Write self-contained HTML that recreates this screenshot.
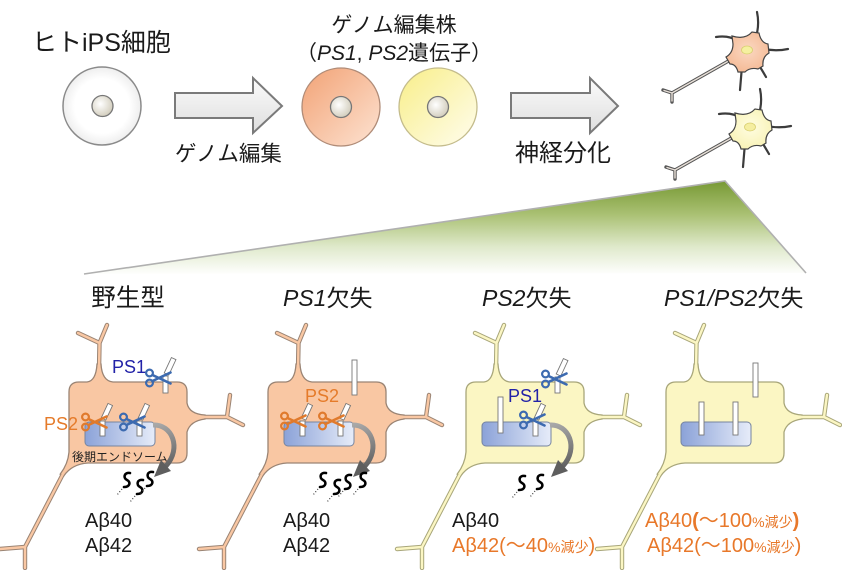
<!DOCTYPE html>
<html><head><meta charset="utf-8">
<style>
html,body{margin:0;padding:0;background:#fff;}
svg{display:block;font-family:"Liberation Sans","Noto Sans CJK JP",sans-serif;}
</style></head>
<body>
<svg width="842" height="570" viewBox="0 0 842 570" xmlns="http://www.w3.org/2000/svg">
<defs>
  <linearGradient id="gArrow" x1="0" y1="0" x2="0" y2="1">
    <stop offset="0" stop-color="#fbfbfb"/><stop offset="1" stop-color="#dedede"/>
  </linearGradient>
  <linearGradient id="gC2" x1="0" y1="0" x2="1" y2="1">
    <stop offset="0" stop-color="#f2a275"/><stop offset="1" stop-color="#fde3d2"/>
  </linearGradient>
  <linearGradient id="gC3" x1="0" y1="0" x2="1" y2="1">
    <stop offset="0" stop-color="#f8ee88"/><stop offset="1" stop-color="#fffdee"/>
  </linearGradient>
  <radialGradient id="gC1" cx="0.5" cy="0.5" r="0.5">
    <stop offset="0.7" stop-color="#ffffff"/><stop offset="1" stop-color="#eeeeee"/>
  </radialGradient>
  <radialGradient id="gNuc" cx="0.4" cy="0.4" r="0.6">
    <stop offset="0" stop-color="#ffffff"/><stop offset="1" stop-color="#d4cfbf"/>
  </radialGradient>
  <linearGradient id="gTri" x1="0" y1="181" x2="0" y2="275" gradientUnits="userSpaceOnUse">
    <stop offset="0" stop-color="#779934"/>
    <stop offset="0.35" stop-color="#a9c072"/>
    <stop offset="0.7" stop-color="#dfe9cb"/>
    <stop offset="1" stop-color="#ffffff"/>
  </linearGradient>
  <linearGradient id="gEndo" x1="0" y1="0" x2="1" y2="0">
    <stop offset="0" stop-color="#8ba2d8"/><stop offset="1" stop-color="#e6ecf9"/>
  </linearGradient>
  <linearGradient id="gArc" x1="153" y1="425" x2="166" y2="470" gradientUnits="userSpaceOnUse">
    <stop offset="0" stop-color="#a8a8a8"/><stop offset="1" stop-color="#5e5e5e"/>
  </linearGradient>
  <radialGradient id="gNO" cx="0.5" cy="0.45" r="0.6">
    <stop offset="0" stop-color="#fbd8c2"/><stop offset="1" stop-color="#f4b994"/>
  </radialGradient>
  <radialGradient id="gNY" cx="0.5" cy="0.45" r="0.6">
    <stop offset="0" stop-color="#fffde2"/><stop offset="1" stop-color="#f8f2b4"/>
  </radialGradient>

  <path id="body" d="M 79,382 L 87,382 Q 96,381 97,364 L 101,364 Q 102,381 113,382 L 177,382 Q 187,382 187,392 L 187,403 Q 189,414 205,415 L 205,419 Q 190,421 187,432 L 187,453 Q 187,463 177,463 L 88,463 Q 72,464 63.8,475.9 L 60.2,474.1 Q 68,464 69,452 L 69,392 Q 69,382 79,382 Z"/>
  <path id="dend" fill="none" stroke-linecap="round" stroke-linejoin="round"
        d="M 99,370 L 99.5,343 L 78,333 M 99.5,343 L 107,325 M 199,417 L 227,417 L 230,395 M 227,417 L 243,425 M 64,472 L 25,547 L 0,549 M 25,547 L 25,568"/>
  <g id="sc" fill="none" stroke-width="2.2" stroke-linecap="round">
    <circle cx="-8.5" cy="-5" r="3.4"/>
    <circle cx="-8.5" cy="5" r="3.4"/>
    <path d="M -5.5,-3 L 12.5,5.5 M -5.5,3 L 12.5,-5.5" stroke-width="2.6"/>
  </g>
  <g id="arr">
    <path d="M 153,425 C 172,424 182,448 166,466" fill="none" stroke="url(#gArc)" stroke-width="5"/>
    <polygon points="154,477 171,471 161,460" fill="#5e5e5e"/>
  </g>
  <g id="sq">
    <path d="M 7,0 C 1,-1 0,5 4,7 C 8,9 7,14 1,14" fill="none" stroke="#000" stroke-width="2.6" stroke-linecap="round"/>
    <path d="M -1,16 L -6,22" fill="none" stroke="#444" stroke-width="1.3" stroke-dasharray="1 2"/>
  </g>
  <g id="neuron">
    <path fill="none" stroke="#3c3c3c" stroke-width="2.2" stroke-linecap="round"
      d="M 755,40 Q 760,26 757,12 M 738,41 Q 729,35 716,37 M 760,48 Q 774,52 788,49 M 757,62 Q 762,70 766,77 M 742,66 Q 741,78 740,90"/>
    <path fill="none" stroke="#555" stroke-width="3.4" stroke-linecap="round" d="M 732,59 L 672,93 M 672,93 L 663,90 M 672,93 L 672,102"/>
    <path fill="none" stroke="#e8e0d8" stroke-width="1.4" stroke-linecap="round" d="M 732,59 L 672,93 M 672,93 L 664,90.5 M 672,93 L 672,101"/>
    <path stroke="#444" stroke-width="1.2"
      d="M 759,33 Q 761,43 768,44 L 769,53 Q 762,57 763,66 L 758,69 Q 750,67 745,72 L 738,72 Q 736,64 730,64 L 726,57 Q 733,53 733,44 L 732,36 Q 745,40 752,32 Z"/>
  </g>
</defs>

<!-- Top row -->
<text x="32" y="51" font-size="25" fill="#1a1a1a">ヒトiPS細胞</text>
<circle cx="102" cy="106" r="39" fill="url(#gC1)" stroke="#8a8a8a" stroke-width="1.5"/>
<circle cx="102.5" cy="106" r="10.5" fill="url(#gNuc)" stroke="#777" stroke-width="1.3"/>

<polygon points="175,93 253,93 253,78 282,106 253,133 253,118 175,118" fill="url(#gArrow)" stroke="#7a7a7a" stroke-width="2" stroke-linejoin="miter"/>
<text x="175" y="161" font-size="21.5" fill="#1a1a1a">ゲノム編集</text>

<text x="394" y="32" font-size="21" text-anchor="middle" fill="#1a1a1a">ゲノム編集株</text>
<text x="394" y="60" font-size="21" text-anchor="middle" fill="#1a1a1a">（<tspan font-style="italic">PS1</tspan>, <tspan font-style="italic">PS2</tspan>遺伝子）</text>

<circle cx="341" cy="107" r="39" fill="url(#gC2)" stroke="#b08c78" stroke-width="1.3"/>
<circle cx="341" cy="107" r="10.5" fill="url(#gNuc)" stroke="#777" stroke-width="1.3"/>
<circle cx="438" cy="107" r="39" fill="url(#gC3)" stroke="#c4bc8c" stroke-width="1.3"/>
<circle cx="438" cy="107" r="10.5" fill="url(#gNuc)" stroke="#777" stroke-width="1.3"/>

<polygon points="511,93 590,93 590,78 618,106 590,133 590,118 511,118" fill="url(#gArrow)" stroke="#7a7a7a" stroke-width="2"/>
<text x="515" y="161" font-size="24" fill="#1a1a1a">神経分化</text>

<!-- top neurons -->
<use href="#neuron" fill="url(#gNO)"/>
<ellipse cx="747" cy="50" rx="5.5" ry="4" fill="#f5f0a0" stroke="#d8cf70" stroke-width="0.8"/>
<g transform="translate(3,77)">
  <use href="#neuron" fill="url(#gNY)"/>
  <ellipse cx="747" cy="50" rx="5.5" ry="4" fill="#f5eea0" stroke="#d8cf70" stroke-width="0.8"/>
</g>

<!-- green triangle -->
<polygon points="84,274 725,181 806,273" fill="url(#gTri)"/>
<path d="M 84,274 L 725,181 L 806,273" fill="none" stroke="#b0b0b0" stroke-width="1.6"/>

<!-- Titles -->
<text x="128" y="306" font-size="24.5" text-anchor="middle" fill="#1a1a1a">野生型</text>
<text x="283" y="306" font-size="23" fill="#1a1a1a"><tspan font-style="italic">PS1</tspan>欠失</text>
<text x="482" y="306" font-size="23" fill="#1a1a1a"><tspan font-style="italic">PS2</tspan>欠失</text>
<text x="664" y="306" font-size="23" fill="#1a1a1a"><tspan font-style="italic">PS1/PS2</tspan>欠失</text>

<!-- Panel cells -->
<g>
  <use href="#dend" stroke="#9a8474" stroke-width="4.4"/>
  <use href="#body" fill="#f9c7a3" stroke="#9a8474" stroke-width="1.3"/>
  <use href="#dend" stroke="#f9c7a3" stroke-width="2.4"/>
</g>
<g transform="translate(199,0)">
  <use href="#dend" stroke="#9a8474" stroke-width="4.4"/>
  <use href="#body" fill="#f9c7a3" stroke="#9a8474" stroke-width="1.3"/>
  <use href="#dend" stroke="#f9c7a3" stroke-width="2.4"/>
</g>
<g transform="translate(397,0)">
  <use href="#dend" stroke="#a8a67a" stroke-width="4.4"/>
  <use href="#body" fill="#fbf6c3" stroke="#a8a67a" stroke-width="1.3"/>
  <use href="#dend" stroke="#fbf6c3" stroke-width="2.4"/>
</g>
<g transform="translate(597,0)">
  <use href="#dend" stroke="#a8a67a" stroke-width="4.4"/>
  <use href="#body" fill="#fbf6c3" stroke="#a8a67a" stroke-width="1.3"/>
  <use href="#dend" stroke="#fbf6c3" stroke-width="2.4"/>
</g>

<!-- Endosomes -->
<rect x="85" y="422" width="70" height="24" rx="4" fill="url(#gEndo)" stroke="#76849f" stroke-width="1"/>
<rect x="284" y="422" width="70" height="24" rx="4" fill="url(#gEndo)" stroke="#76849f" stroke-width="1"/>
<rect x="482" y="422" width="69" height="24" rx="4" fill="url(#gEndo)" stroke="#76849f" stroke-width="1"/>
<rect x="681" y="422" width="70" height="24" rx="4" fill="url(#gEndo)" stroke="#76849f" stroke-width="1"/>

<!-- Rods -->
<g fill="#fff" stroke="#777" stroke-width="0.9">
  <rect x="163" y="376" width="5" height="17"/>
  <rect x="-2.5" y="-17" width="5" height="17" transform="translate(166.5,374) rotate(25)"/>
  <rect x="100" y="421" width="5" height="15"/>
  <rect x="-2.5" y="-16" width="5" height="16" transform="translate(103.5,419) rotate(25)"/>
  <rect x="137" y="421" width="5" height="15"/>
  <rect x="-2.5" y="-16" width="5" height="16" transform="translate(140.5,419) rotate(25)"/>
  <rect x="352" y="360" width="5" height="35"/>
  <rect x="300" y="421" width="5" height="15"/>
  <rect x="-2.5" y="-16" width="5" height="16" transform="translate(303.5,419) rotate(25)"/>
  <rect x="338" y="421" width="5" height="15"/>
  <rect x="-2.5" y="-16" width="5" height="16" transform="translate(341.5,419) rotate(25)"/>
  <rect x="498" y="397" width="5" height="36"/>
  <rect x="555" y="377" width="5" height="16"/>
  <rect x="-2.5" y="-17" width="5" height="17" transform="translate(558.5,375) rotate(25)"/>
  <rect x="533" y="421" width="5" height="15"/>
  <rect x="-2.5" y="-16" width="5" height="16" transform="translate(536.5,419) rotate(25)"/>
  <rect x="753" y="363" width="5" height="34"/>
  <rect x="699" y="402" width="5" height="33"/>
  <rect x="733" y="402" width="5" height="33"/>
</g>

<!-- Scissors -->
<use href="#sc" stroke="#3c6ab0" transform="translate(158,378)"/>
<use href="#sc" stroke="#e07a2c" transform="translate(94,422)"/>
<use href="#sc" stroke="#3c6ab0" transform="translate(132,422)"/>
<use href="#sc" stroke="#e07a2c" transform="translate(293,421)"/>
<use href="#sc" stroke="#e07a2c" transform="translate(331,421)"/>
<use href="#sc" stroke="#3c6ab0" transform="translate(554,379)"/>
<use href="#sc" stroke="#3c6ab0" transform="translate(532,420)"/>

<!-- Labels in cells -->
<text x="112" y="373" font-size="18" fill="#2222a8">PS1</text>
<text x="44" y="430" font-size="18" fill="#e57b2a">PS2</text>
<text x="72" y="461" font-size="12" fill="#222">後期エンドソーム</text>
<text x="305" y="402" font-size="18" fill="#e57b2a">PS2</text>
<text x="508" y="402" font-size="18" fill="#2222a8">PS1</text>

<!-- Curved arrows -->
<use href="#arr"/>
<use href="#arr" transform="translate(199,0)"/>
<use href="#arr" transform="translate(397,0)"/>

<!-- Squiggles -->
<use href="#sq" transform="translate(123,473)"/>
<use href="#sq" transform="translate(136,480)"/>
<use href="#sq" transform="translate(146,472)"/>
<use href="#sq" transform="translate(319,473)"/>
<use href="#sq" transform="translate(333,480)"/>
<use href="#sq" transform="translate(344,475)"/>
<use href="#sq" transform="translate(359,473)"/>
<use href="#sq" transform="translate(518,476)"/>
<use href="#sq" transform="translate(536,475)"/>

<!-- Abeta labels -->
<g font-size="20" fill="#1a1a1a">
  <text x="85" y="527">Aβ40</text>
  <text x="85" y="552">Aβ42</text>
  <text x="283" y="527">Aβ40</text>
  <text x="283" y="552">Aβ42</text>
  <text x="452" y="527">Aβ40</text>
</g>
<g font-size="20" fill="#e8782a">
  <text x="452" y="552">Aβ42(～40<tspan font-size="14">%減少</tspan>)</text>
  <text x="645" y="527">Aβ40<tspan font-weight="bold">(</tspan>～100<tspan font-size="14">%減少</tspan><tspan font-weight="bold">)</tspan></text>
  <text x="647" y="552">Aβ42(～100<tspan font-size="14">%減少</tspan>)</text>
</g>
</svg>
</body></html>
